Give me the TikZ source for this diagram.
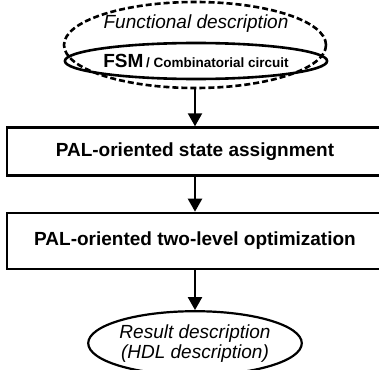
\documentclass[tikz,border=0pt]{standalone}
\usepackage{fontspec}
\setmainfont{Liberation Sans}
\usetikzlibrary{positioning,shapes.geometric,arrows.meta}

\tikzset{
  stepbox/.style={draw,line width=2.4pt,rectangle,minimum width=376pt,inner sep=0pt,font=\fontsize{19}{23}\selectfont\bfseries},
  oval/.style={draw,ellipse,inner sep=0pt},
  flow/.style={line width=2.2pt,-{Triangle[width=14pt,length=13pt]}}
}

\begin{document}
\begin{tikzpicture}[x=1pt,y=1pt]
      \useasboundingbox (0,0) rectangle (379,-369);
      \node[oval,dash pattern=on 6pt off 3pt,line width=2.6pt,minimum width=262pt,minimum height=86pt](func) at (195,-45){};
      \node[anchor=base,font=\fontsize{19}{23}\selectfont\itshape](functext) at (196,-29){Functional description};
      \node[oval,line width=2.6pt,minimum width=226pt,minimum height=36pt,font=\bfseries](fsm) at (196,-61){{\fontsize{19}{23}\selectfont FSM} {\fontsize{13.5}{16}\selectfont / Combinatorial circuit}};
      \node[stepbox,minimum height=48pt,below=37pt of func](assign){PAL-oriented state assignment};
      \node[stepbox,minimum height=56pt,below=35pt of assign](optim){PAL-oriented two-level optimization};
      \node[oval,line width=2.2pt,minimum width=196pt,minimum height=64pt,align=center,font=\fontsize{19}{20}\selectfont\itshape,below=40pt of optim](result){Result description\\(HDL description)};
      \draw[flow] (func) -- (assign);
      \draw[flow] (assign) -- (optim);
      \draw[flow] (optim) -- (result);
    \end{tikzpicture}
\end{document}
